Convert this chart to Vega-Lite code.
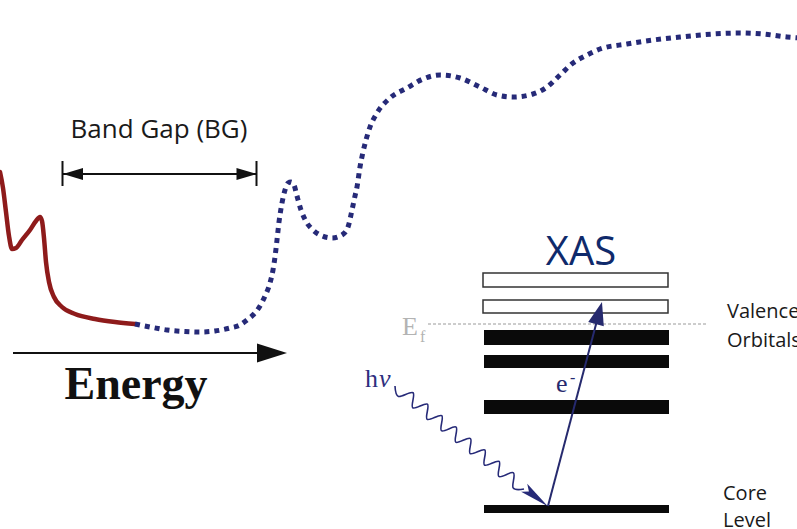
{
  "$schema": "https://vega.github.io/schema/vega-lite/v6.json",
  "width": 797,
  "height": 529,
  "padding": 0,
  "autosize": {"type": "none"},
  "background": "white",
  "config": {"view": {"stroke": null}, "axis": {"disable": true}},
  "datasets": {
    "red": [
      {"x": 0, "y": 172}, {"x": 3, "y": 188}, {"x": 6, "y": 212}, {"x": 9, "y": 236}, {"x": 12, "y": 249},
      {"x": 16, "y": 248}, {"x": 22, "y": 240}, {"x": 30, "y": 230}, {"x": 36, "y": 221}, {"x": 40, "y": 217},
      {"x": 42, "y": 221}, {"x": 44, "y": 238}, {"x": 46, "y": 262}, {"x": 49, "y": 282}, {"x": 54, "y": 297},
      {"x": 62, "y": 307}, {"x": 75, "y": 314}, {"x": 95, "y": 319}, {"x": 115, "y": 322}, {"x": 135, "y": 324}
    ],
    "blue": [
      {"x": 135, "y": 324}, {"x": 150, "y": 327}, {"x": 167, "y": 330}, {"x": 185, "y": 331.5}, {"x": 200, "y": 332},
      {"x": 215, "y": 331}, {"x": 230, "y": 328}, {"x": 240, "y": 325}, {"x": 247, "y": 320}, {"x": 254, "y": 314},
      {"x": 260, "y": 306}, {"x": 265, "y": 296}, {"x": 270, "y": 283}, {"x": 273, "y": 270}, {"x": 275, "y": 257},
      {"x": 277, "y": 240}, {"x": 279, "y": 222}, {"x": 282, "y": 203}, {"x": 285, "y": 190}, {"x": 288, "y": 183},
      {"x": 291, "y": 182}, {"x": 294, "y": 185}, {"x": 297, "y": 196}, {"x": 301, "y": 210}, {"x": 307, "y": 223},
      {"x": 313, "y": 230}, {"x": 320, "y": 235}, {"x": 332, "y": 238}, {"x": 342, "y": 235}, {"x": 348, "y": 227},
      {"x": 352, "y": 210}, {"x": 355, "y": 196}, {"x": 357, "y": 187}, {"x": 360, "y": 167}, {"x": 363, "y": 152},
      {"x": 366, "y": 140}, {"x": 370, "y": 127}, {"x": 377, "y": 113}, {"x": 390, "y": 98}, {"x": 407, "y": 88},
      {"x": 423, "y": 79}, {"x": 440, "y": 75}, {"x": 460, "y": 78}, {"x": 480, "y": 87}, {"x": 497, "y": 95},
      {"x": 513, "y": 97}, {"x": 533, "y": 94}, {"x": 547, "y": 87}, {"x": 560, "y": 75}, {"x": 573, "y": 63},
      {"x": 587, "y": 55}, {"x": 600, "y": 49}, {"x": 627, "y": 44}, {"x": 653, "y": 40}, {"x": 680, "y": 37},
      {"x": 713, "y": 34}, {"x": 740, "y": 33}, {"x": 763, "y": 34}, {"x": 787, "y": 37}, {"x": 800, "y": 38}
    ],
    "wave": [
      {"i": 0, "x": 395, "y": 386}, {"i": 1, "x": 398.43, "y": 396.41}, {"i": 2, "x": 413.08, "y": 392.75},
      {"i": 3, "x": 412.77, "y": 407.85}, {"i": 4, "x": 427.42, "y": 404.19}, {"i": 5, "x": 427.11, "y": 419.29},
      {"i": 6, "x": 441.76, "y": 415.63}, {"i": 7, "x": 441.45, "y": 430.73}, {"i": 8, "x": 456.1, "y": 427.07},
      {"i": 9, "x": 455.79, "y": 442.17}, {"i": 10, "x": 470.44, "y": 438.51}, {"i": 11, "x": 470.13, "y": 453.61},
      {"i": 12, "x": 484.78, "y": 449.95}, {"i": 13, "x": 484.47, "y": 465.05}, {"i": 14, "x": 499.12, "y": 461.39},
      {"i": 15, "x": 498.81, "y": 476.49}, {"i": 16, "x": 513.46, "y": 472.83}, {"i": 17, "x": 513.15, "y": 487.93},
      {"i": 18, "x": 524, "y": 489}
    ],
    "bars": [
      {"kind": "open", "x": 483, "x2": 668, "y": 273, "y2": 287},
      {"kind": "open", "x": 483, "x2": 668, "y": 300, "y2": 313},
      {"kind": "filled", "x": 484, "x2": 669, "y": 330, "y2": 345},
      {"kind": "filled", "x": 484, "x2": 669, "y": 355, "y2": 368},
      {"kind": "filled", "x": 484, "x2": 669, "y": 400, "y2": 414},
      {"kind": "filled", "x": 484, "x2": 669, "y": 505, "y2": 513}
    ]
  },
  "layer": [
    {
      "data": {"values": [{"x": 0, "y": 0}]},
      "mark": {"type": "point", "opacity": 0},
      "encoding": {
        "x": {"field": "x", "type": "quantitative", "scale": {"domain": [0, 797], "nice": false, "zero": false}, "axis": null},
        "y": {"field": "y", "type": "quantitative", "scale": {"domain": [0, 529], "nice": false, "zero": false, "reverse": true}, "axis": null}
      }
    },
    {
      "data": {"name": "red"},
      "mark": {"type": "line", "interpolate": "monotone", "stroke": "#8e1b1b", "strokeWidth": 4.5, "strokeCap": "round"},
      "encoding": {
        "x": {"field": "x", "type": "quantitative"},
        "y": {"field": "y", "type": "quantitative"}
      }
    },
    {
      "data": {"name": "blue"},
      "mark": {"type": "line", "interpolate": "monotone", "stroke": "#262a78", "strokeWidth": 5, "strokeDash": [5, 5], "strokeCap": "butt"},
      "encoding": {
        "x": {"field": "x", "type": "quantitative"},
        "y": {"field": "y", "type": "quantitative"}
      }
    },
    {
      "data": {"values": [{"x": 63, "x2": 257, "y": 174, "y2": 174}, {"x": 62.5, "x2": 62.5, "y": 161, "y2": 186}, {"x": 256.5, "x2": 256.5, "y": 161, "y2": 186}]},
      "mark": {"type": "rule", "stroke": "#111111", "strokeWidth": 2},
      "encoding": {
        "x": {"field": "x", "type": "quantitative"},
        "x2": {"field": "x2"},
        "y": {"field": "y", "type": "quantitative"},
        "y2": {"field": "y2"}
      }
    },
    {
      "data": {"values": [{"x": 246.5, "y": 174}]},
      "mark": {"type": "point", "shape": "M1,0L-1,-0.6L-1,0.6Z", "filled": true, "fill": "#111111", "opacity": 1, "size": 400, "angle": 0},
      "encoding": {"x": {"field": "x", "type": "quantitative"}, "y": {"field": "y", "type": "quantitative"}}
    },
    {
      "data": {"values": [{"x": 73, "y": 174}]},
      "mark": {"type": "point", "shape": "M1,0L-1,-0.6L-1,0.6Z", "filled": true, "fill": "#111111", "opacity": 1, "size": 400, "angle": 180},
      "encoding": {"x": {"field": "x", "type": "quantitative"}, "y": {"field": "y", "type": "quantitative"}}
    },
    {
      "data": {"values": [{"x": 13, "x2": 262, "y": 353, "y2": 353}]},
      "mark": {"type": "rule", "stroke": "#111111", "strokeWidth": 2},
      "encoding": {
        "x": {"field": "x", "type": "quantitative"},
        "x2": {"field": "x2"},
        "y": {"field": "y", "type": "quantitative"},
        "y2": {"field": "y2"}
      }
    },
    {
      "data": {"values": [{"x": 272, "y": 353}]},
      "mark": {"type": "point", "shape": "M1,0L-1,-0.63L-1,0.63Z", "filled": true, "fill": "#111111", "opacity": 1, "size": 900, "angle": 0},
      "encoding": {"x": {"field": "x", "type": "quantitative"}, "y": {"field": "y", "type": "quantitative"}}
    },
    {
      "data": {"values": [{"x": 159, "y": 138, "t": "Band Gap (BG)"}]},
      "mark": {"type": "text", "font": "Open Sans", "fontSize": 26, "fill": "#1a1a1a", "align": "center", "baseline": "alphabetic"},
      "encoding": {"x": {"field": "x", "type": "quantitative"}, "y": {"field": "y", "type": "quantitative"}, "text": {"field": "t"}}
    },
    {
      "data": {"values": [{"x": 136, "y": 399, "t": "Energy"}]},
      "mark": {"type": "text", "font": "Liberation Serif", "fontWeight": "bold", "fontSize": 46, "fill": "#111111", "align": "center", "baseline": "alphabetic"},
      "encoding": {"x": {"field": "x", "type": "quantitative"}, "y": {"field": "y", "type": "quantitative"}, "text": {"field": "t"}}
    },
    {
      "data": {"values": [{"x": 581, "y": 265, "t": "XAS"}]},
      "mark": {"type": "text", "font": "Open Sans", "fontSize": 40, "fill": "#0f2a6b", "align": "center", "baseline": "alphabetic"},
      "encoding": {"x": {"field": "x", "type": "quantitative"}, "y": {"field": "y", "type": "quantitative"}, "text": {"field": "t"}}
    },
    {
      "data": {"name": "bars"},
      "transform": [{"filter": "datum.kind == 'open'"}],
      "mark": {"type": "rect", "fill": "white", "stroke": "#333333", "strokeWidth": 1.5},
      "encoding": {
        "x": {"field": "x", "type": "quantitative"},
        "x2": {"field": "x2"},
        "y": {"field": "y", "type": "quantitative"},
        "y2": {"field": "y2"}
      }
    },
    {
      "data": {"name": "bars"},
      "transform": [{"filter": "datum.kind == 'filled'"}],
      "mark": {"type": "rect", "fill": "#0a0a0a"},
      "encoding": {
        "x": {"field": "x", "type": "quantitative"},
        "x2": {"field": "x2"},
        "y": {"field": "y", "type": "quantitative"},
        "y2": {"field": "y2"}
      }
    },
    {
      "data": {"values": [{"x": 428, "x2": 708, "y": 324, "y2": 324}]},
      "mark": {"type": "rule", "stroke": "#9a9a9a", "strokeWidth": 1, "strokeDash": [3, 2]},
      "encoding": {
        "x": {"field": "x", "type": "quantitative"},
        "x2": {"field": "x2"},
        "y": {"field": "y", "type": "quantitative"},
        "y2": {"field": "y2"}
      }
    },
    {
      "data": {"values": [{"x": 402, "y": 335, "t": "E"}]},
      "mark": {"type": "text", "font": "Liberation Serif", "fontSize": 26, "fill": "#b3b3b3", "align": "left", "baseline": "alphabetic"},
      "encoding": {"x": {"field": "x", "type": "quantitative"}, "y": {"field": "y", "type": "quantitative"}, "text": {"field": "t"}}
    },
    {
      "data": {"values": [{"x": 420, "y": 342, "t": "f"}]},
      "mark": {"type": "text", "font": "Liberation Serif", "fontSize": 16, "fill": "#b3b3b3", "align": "left", "baseline": "alphabetic"},
      "encoding": {"x": {"field": "x", "type": "quantitative"}, "y": {"field": "y", "type": "quantitative"}, "text": {"field": "t"}}
    },
    {
      "data": {"values": [{"x": 548, "x2": 599, "y": 506, "y2": 313}]},
      "mark": {"type": "rule", "stroke": "#262a6e", "strokeWidth": 2},
      "encoding": {
        "x": {"field": "x", "type": "quantitative"},
        "x2": {"field": "x2"},
        "y": {"field": "y", "type": "quantitative"},
        "y2": {"field": "y2"}
      }
    },
    {
      "data": {"values": [{"x": 599, "y": 313}]},
      "mark": {"type": "point", "shape": "M1,0L-1,-0.7L-1,0.7Z", "filled": true, "fill": "#262a6e", "opacity": 1, "size": 529, "angle": 285},
      "encoding": {"x": {"field": "x", "type": "quantitative"}, "y": {"field": "y", "type": "quantitative"}}
    },
    {
      "data": {"values": [{"x": 556, "y": 392, "t": "e"}]},
      "mark": {"type": "text", "font": "Liberation Serif", "fontSize": 26, "fill": "#262a6e", "align": "left", "baseline": "alphabetic"},
      "encoding": {"x": {"field": "x", "type": "quantitative"}, "y": {"field": "y", "type": "quantitative"}, "text": {"field": "t"}}
    },
    {
      "data": {"values": [{"x": 570, "y": 383, "t": "-"}]},
      "mark": {"type": "text", "font": "Liberation Serif", "fontSize": 16, "fill": "#262a6e", "align": "left", "baseline": "alphabetic"},
      "encoding": {"x": {"field": "x", "type": "quantitative"}, "y": {"field": "y", "type": "quantitative"}, "text": {"field": "t"}}
    },
    {
      "data": {"name": "wave"},
      "mark": {"type": "line", "interpolate": "cardinal", "stroke": "#262a78", "strokeWidth": 1.6},
      "encoding": {
        "x": {"field": "x", "type": "quantitative"},
        "y": {"field": "y", "type": "quantitative"},
        "order": {"field": "i", "type": "quantitative"}
      }
    },
    {
      "data": {"values": [{"x": 536, "y": 497}]},
      "mark": {"type": "point", "shape": "M1,0L-1,-0.33L-0.6,0L-1,0.33Z", "filled": true, "fill": "#262a78", "opacity": 1, "size": 900, "angle": 38},
      "encoding": {"x": {"field": "x", "type": "quantitative"}, "y": {"field": "y", "type": "quantitative"}}
    },
    {
      "data": {"values": [{"x": 365, "y": 387, "t": "h"}]},
      "mark": {"type": "text", "font": "Liberation Serif", "fontSize": 26, "fill": "#2e2e7e", "align": "left", "baseline": "alphabetic"},
      "encoding": {"x": {"field": "x", "type": "quantitative"}, "y": {"field": "y", "type": "quantitative"}, "text": {"field": "t"}}
    },
    {
      "data": {"values": [{"x": 379, "y": 387, "t": "ν"}]},
      "mark": {"type": "text", "font": "Liberation Serif", "fontStyle": "italic", "fontSize": 26, "fill": "#2e2e7e", "align": "left", "baseline": "alphabetic"},
      "encoding": {"x": {"field": "x", "type": "quantitative"}, "y": {"field": "y", "type": "quantitative"}, "text": {"field": "t"}}
    },
    {
      "data": {"values": [
        {"x": 727, "y": 318, "t": "Valence"},
        {"x": 727, "y": 347, "t": "Orbitals"},
        {"x": 723, "y": 500, "t": "Core"},
        {"x": 723, "y": 527, "t": "Level"}
      ]},
      "mark": {"type": "text", "font": "Open Sans", "fontSize": 20, "fill": "#1a1a1a", "align": "left", "baseline": "alphabetic"},
      "encoding": {"x": {"field": "x", "type": "quantitative"}, "y": {"field": "y", "type": "quantitative"}, "text": {"field": "t"}}
    }
  ]
}
